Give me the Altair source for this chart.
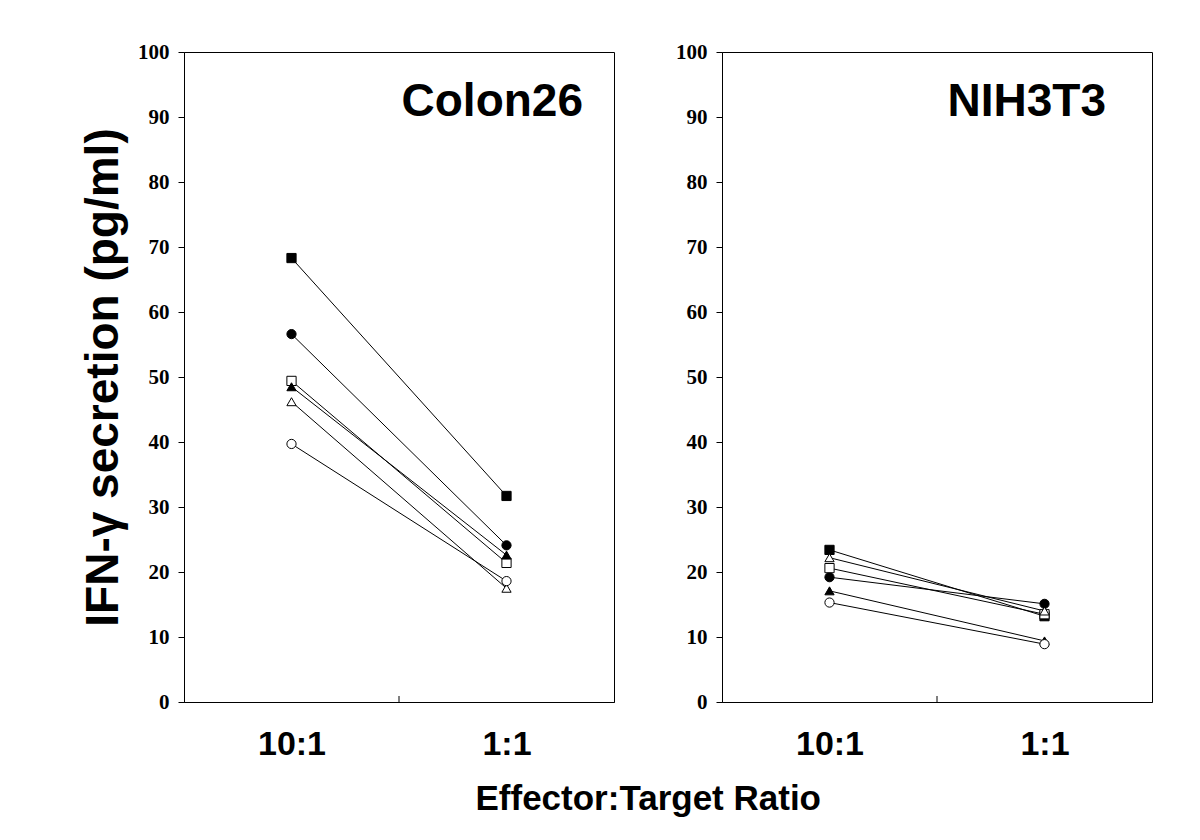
import altair as alt
import pandas as pd

# ---- data ----
ratios = ["10:1", "1:1"]
series = ["filled square", "filled circle", "open square", "filled triangle", "open triangle", "open circle"]
shapes = ["square", "circle", "square", "triangle-up", "triangle-up", "circle"]
fills = ["black", "black", "white", "black", "white", "white"]

colon26_10 = [68.3, 56.6, 49.4, 48.5, 46.2, 39.7]
colon26_1 = [31.7, 24.1, 21.4, 22.6, 17.5, 18.6]
nih3t3_10 = [23.4, 19.2, 20.6, 17.1, 22.2, 15.3]
nih3t3_1 = [13.2, 15.1, 13.5, 9.4, 14.0, 8.9]

panels = {"Colon26": (colon26_10, colon26_1), "NIH3T3": (nih3t3_10, nih3t3_1)}

rows = []
for pname, (v10, v1) in panels.items():
    for i, s in enumerate(series):
        for j, vals in enumerate((v10, v1)):
            rows.append({"panel": pname, "series": s, "ratio": ratios[j],
                         "pos": 1 + 2 * j, "value": vals[i]})
df = pd.DataFrame(rows)

SANS = "Liberation Sans"
SERIF = "Liberation Serif"
W, H = 430, 650

shape_scale = alt.Scale(domain=series, range=shapes)
fill_scale = alt.Scale(domain=series, range=fills)


def panel(pname, first):
    d = df[df.panel == pname]
    xenc = alt.X("pos:Q", scale=alt.Scale(domain=[0, 4]),
                 axis=alt.Axis(values=[1, 3], ticks=False, grid=False,
                               labelExpr="datum.value == 1 ? '10:1' : '1:1'",
                               labelFont=SANS, labelFontSize=34, labelFontWeight="bold",
                               labelColor="black", labelPadding=25,
                               domainColor="black", title=None))
    yaxis = alt.Axis(values=list(range(0, 101, 10)), grid=False, tickSize=6,
                     tickColor="black", domainColor="black",
                     labelFont=SERIF, labelFontSize=21, labelFontWeight="bold",
                     labelColor="black", labelPadding=9,
                     title="IFN-γ secretion (pg/ml)" if first else None,
                     titleFont=SANS, titleFontSize=46, titleFontWeight="bold",
                     titleColor="black", titlePadding=10)
    yenc = alt.Y("value:Q", scale=alt.Scale(domain=[0, 100]), axis=yaxis)
    base = alt.Chart(d)
    lines = base.mark_line(color="black", strokeWidth=1).encode(
        x=xenc, y=yenc, detail="series:N", order="pos:Q")
    pts = base.mark_point(filled=True, stroke="black", strokeWidth=1, size=85, opacity=1).encode(
        x=xenc, y=yenc,
        shape=alt.Shape("series:N", scale=shape_scale, legend=None),
        fill=alt.Fill("series:N", scale=fill_scale, legend=None))
    tick = alt.Chart(pd.DataFrame({"pos": [2]})).mark_rule(color="black", strokeWidth=1).encode(
        x=alt.X("pos:Q"), y=alt.value(H), y2=alt.value(H - 6))
    title = alt.Chart(pd.DataFrame({"t": [pname]})).mark_text(
        font=SANS, fontSize=46, fontWeight="bold", align="right", baseline="middle", color="black"
    ).encode(text="t:N", x=alt.value(W - 31 if first else W - 46), y=alt.value(50))
    return alt.layer(lines, pts, tick, title).properties(width=W, height=H)


chart = alt.hconcat(panel("Colon26", True), panel("NIH3T3", False), spacing=60).properties(
    title=alt.TitleParams("Effector:Target Ratio", orient="bottom", anchor="middle",
                          font=SANS, fontSize=35, fontWeight="bold", color="black",
                          dx=32, offset=20),
    padding={"left": 72, "top": 32, "right": 5, "bottom": 5},
).configure_view(stroke="black", strokeWidth=1
).resolve_scale(shape="independent", fill="independent")

chart.save("out.html", embed_options={"renderer": "svg", "actions": False})
